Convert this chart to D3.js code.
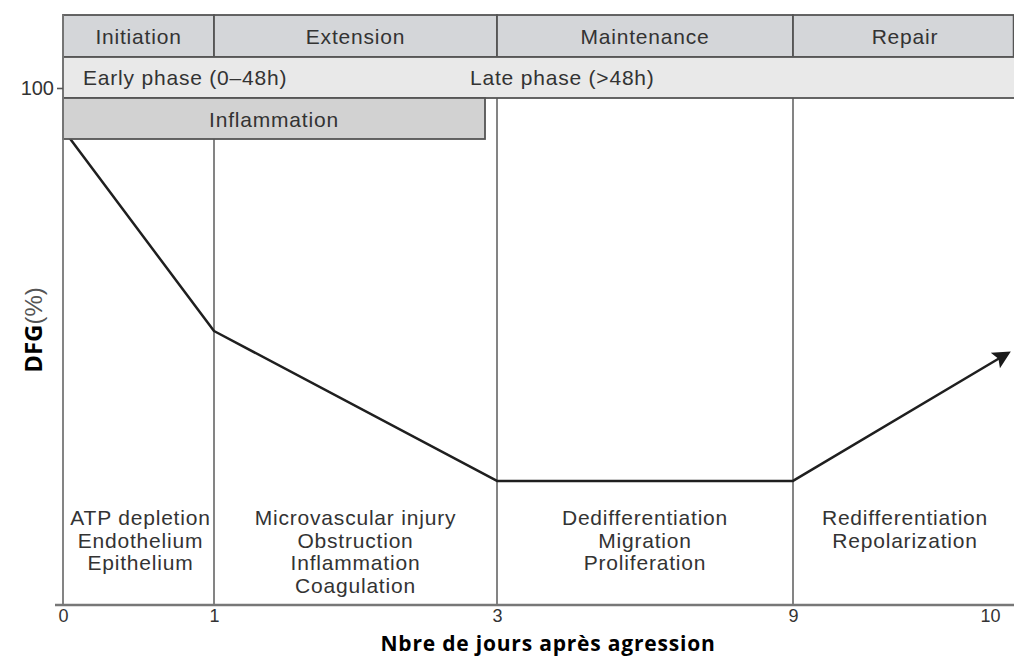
<!DOCTYPE html>
<html>
<head>
<meta charset="utf-8">
<script src="https://cdn.jsdelivr.net/npm/d3@7"></script>
<style>
  body { margin: 0; background: #fff; }
  svg { display: block; }
  .lab { font-family: "Liberation Sans", Arial, sans-serif; fill: #333; letter-spacing: 0.8px; }
</style>
</head>
<body>
<div id="container"></div>
<script>
// Days after injury (x), GFR % (y)
const days = [0, 1, 3, 9, 10.09];
const gfr = [92, 53, 24, 24, 48.7];

// Phase boundaries (days) and their names
const phaseNames = ['Initiation', 'Extension', 'Maintenance', 'Repair'];
const phaseStart = [0, 1, 3, 9];
const phaseEnd = [1, 3, 9, 10.12];

// Text inside each phase
const phaseNotes = [
  ['ATP depletion', 'Endothelium', 'Epithelium'],
  ['Microvascular injury', 'Obstruction', 'Inflammation', 'Coagulation'],
  ['Dedifferentiation', 'Migration', 'Proliferation'],
  ['Redifferentiation', 'Repolarization']
];

const xTicks = [0, 1, 3, 9, 10];
const yTicks = [100];

window.onload = function () {
  const W = 1014, H = 657;
  const svg = d3.select('#container').append('svg')
    .attr('width', W).attr('height', H);

  // x axis is not linear in the original: each day range has its own width
  const x = d3.scaleLinear()
    .domain([0, 1, 3, 9, 10])
    .range([63, 214, 497, 793, 990]);
  const y = d3.scaleLinear()
    .domain([0, 100])
    .range([605, 88]);

  const boxStroke = '#555';
  const lineGrey = '#777';
  const top = 15, row1 = 57, row2 = 98, row3 = 139;
  const fs = 21;

  // vertical phase dividers
  svg.append('g').selectAll('line')
    .data(phaseStart.slice(1))
    .join('line')
    .attr('x1', d => x(d)).attr('x2', d => x(d))
    .attr('y1', top).attr('y2', y(0))
    .attr('stroke', lineGrey).attr('stroke-width', 1.8);

  // arrow head for the curve end
  svg.append('defs').append('marker')
    .attr('id', 'arrow')
    .attr('viewBox', '0 0 10 10')
    .attr('refX', 8).attr('refY', 5)
    .attr('markerWidth', 26).attr('markerHeight', 18)
    .attr('markerUnits', 'userSpaceOnUse')
    .attr('orient', 'auto')
    .append('path')
    .attr('d', 'M0,0 L10,5 L0,10 L2,5 Z')
    .attr('fill', '#1a1a1a');

  const pts = days.map((d, i) => [x(d), y(gfr[i])]);
  svg.append('path')
    .attr('d', d3.line()(pts))
    .attr('fill', 'none')
    .attr('stroke', '#1f1f1f')
    .attr('stroke-width', 2.5)
    .attr('stroke-linejoin', 'round')
    .attr('marker-end', 'url(#arrow)');

  // header: phase names
  svg.append('g').selectAll('rect')
    .data(phaseNames)
    .join('rect')
    .attr('x', (d, i) => x(phaseStart[i]))
    .attr('y', top)
    .attr('width', (d, i) => x(phaseEnd[i]) - x(phaseStart[i]))
    .attr('height', row1 - top)
    .attr('fill', '#d4d6d9')
    .attr('stroke', boxStroke).attr('stroke-width', 1.8);

  svg.append('g').selectAll('text')
    .data(phaseNames)
    .join('text')
    .attr('class', 'lab')
    .attr('x', (d, i) => i === 3 ? 905 : (x(phaseStart[i]) + x(phaseEnd[i])) / 2)
    .attr('y', 44)
    .attr('text-anchor', 'middle')
    .attr('font-size', fs)
    .text(d => d);

  // early / late phase band
  svg.append('rect')
    .attr('x', x(0)).attr('y', row1)
    .attr('width', W - x(0) + 5).attr('height', row2 - row1)
    .attr('fill', '#e9e9e9')
    .attr('stroke', boxStroke).attr('stroke-width', 1.8);
  svg.append('text').attr('class', 'lab')
    .attr('x', 83).attr('y', 85).attr('font-size', fs)
    .text('Early phase (0–48h)');
  svg.append('text').attr('class', 'lab')
    .attr('x', 470).attr('y', 85).attr('font-size', fs)
    .text('Late phase (>48h)');

  // inflammation box
  svg.append('rect')
    .attr('x', x(0)).attr('y', row2)
    .attr('width', 485 - x(0)).attr('height', row3 - row2)
    .attr('fill', '#d2d2d2')
    .attr('stroke', boxStroke).attr('stroke-width', 1.8);
  svg.append('text').attr('class', 'lab')
    .attr('x', (x(0) + 485) / 2).attr('y', 127)
    .attr('text-anchor', 'middle').attr('font-size', fs)
    .text('Inflammation');

  // notes under each phase
  const notes = svg.append('g').selectAll('text')
    .data(phaseNotes)
    .join('text')
    .attr('class', 'lab')
    .attr('font-size', fs)
    .attr('text-anchor', 'middle')
    .attr('x', (d, i) => i === 3 ? 905 : (x(phaseStart[i]) + x(phaseEnd[i])) / 2 + (i === 0 ? 2 : 0))
    .attr('y', 525);
  notes.selectAll('tspan')
    .data((d, i) => d.map(t => ({ t, i })))
    .join('tspan')
    .attr('x', function () { return d3.select(this.parentNode).attr('x'); })
    .attr('dy', (d, j) => j === 0 ? 0 : 22.6)
    .text(d => d.t);

  // left axis line
  svg.append('line')
    .attr('x1', x(0)).attr('x2', x(0))
    .attr('y1', top).attr('y2', y(0))
    .attr('stroke', lineGrey).attr('stroke-width', 1.8);

  // y axis ticks
  const yAxis = svg.append('g')
    .attr('transform', `translate(${x(0)},0)`)
    .call(d3.axisLeft(y).tickValues(yTicks).tickSize(6).tickPadding(3));
  yAxis.select('.domain').remove();
  yAxis.selectAll('line').attr('stroke', '#555').attr('stroke-width', 1.6);
  yAxis.selectAll('text')
    .attr('font-family', '"Liberation Sans", Arial, sans-serif')
    .attr('font-size', 20).attr('fill', '#333');

  // x axis
  const xAxis = svg.append('g')
    .attr('transform', `translate(0,${y(0)})`)
    .call(d3.axisBottom(x).tickValues(xTicks).tickSize(0).tickPadding(4).tickFormat(d3.format('d')));
  xAxis.select('.domain').remove();
  svg.append('line')
    .attr('x1', 55).attr('x2', W)
    .attr('y1', y(0)).attr('y2', y(0))
    .attr('stroke', lineGrey).attr('stroke-width', 2.4);
  xAxis.selectAll('text')
    .attr('font-family', '"Liberation Sans", Arial, sans-serif')
    .attr('font-size', 18).attr('fill', '#333');

  // axis titles
  svg.append('text')
    .attr('x', 548).attr('y', 651)
    .attr('text-anchor', 'middle')
    .attr('font-family', '"Open Sans", sans-serif')
    .attr('font-weight', 'bold')
    .attr('font-size', 21)
    .attr('letter-spacing', 0.8)
    .attr('fill', '#000')
    .text('Nbre de jours après agression');

  const yt = svg.append('text')
    .attr('transform', 'translate(42,330) rotate(-90)')
    .attr('text-anchor', 'middle')
    .attr('font-size', 24);
  yt.append('tspan')
    .attr('font-family', '"Open Sans", sans-serif')
    .attr('font-weight', 'bold').attr('fill', '#000').text('DFG');
  yt.append('tspan')
    .attr('font-family', '"Liberation Sans", Arial, sans-serif')
    .attr('fill', '#555').text('(%)');
};
</script>
</body>
</html>
